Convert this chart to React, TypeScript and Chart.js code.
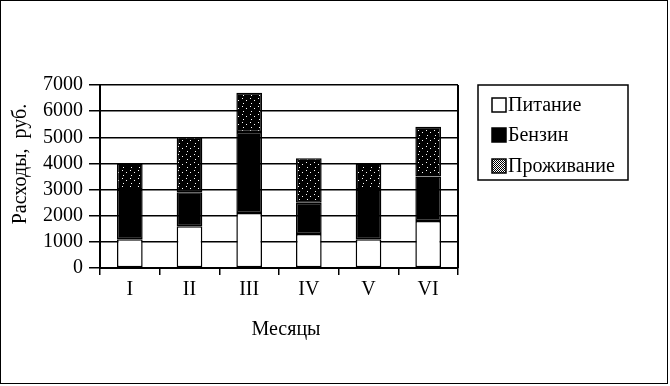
import { useEffect, useRef } from 'react';
import { Chart, registerables } from 'chart.js';

Chart.register(...registerables);

const months = ['I', 'II', 'III', 'IV', 'V', 'VI'];
const seriesLabels = ['Питание', 'Бензин', 'Проживание'];
const pitanie = [1100, 1600, 2100, 1300, 1100, 1800];
const benzin = [1900, 1300, 3100, 1200, 1900, 1700];
const prozhivanie = [1000, 2100, 1500, 1700, 1000, 1900];
const yMin = 0;
const yMax = 7000;
const yStep = 1000;
const yTitle = 'Расходы,  руб.';
const xTitle = 'Месяцы';

const FONT = "'Liberation Serif', 'Times New Roman', serif";

function makeDots(): CanvasPattern | string {
  const c = document.createElement('canvas');
  c.width = 8;
  c.height = 8;
  const g = c.getContext('2d');
  if (!g) return '#222';
  g.fillStyle = '#000';
  g.fillRect(0, 0, 8, 8);
  g.fillStyle = '#fff';
  g.fillRect(1, 1, 1, 1);
  g.fillRect(5, 3, 1, 1);
  g.fillRect(2, 6, 1, 1);
  return g.createPattern(c, 'repeat') || '#222';
}

function makeChecker(): CanvasPattern | string {
  const c = document.createElement('canvas');
  c.width = 2;
  c.height = 2;
  const g = c.getContext('2d');
  if (!g) return '#888';
  g.fillStyle = '#fff';
  g.fillRect(0, 0, 2, 2);
  g.fillStyle = '#000';
  g.fillRect(0, 0, 1, 1);
  g.fillRect(1, 1, 1, 1);
  return g.createPattern(c, 'repeat') || '#888';
}

export default function App() {
  const ref = useRef<HTMLCanvasElement>(null);

  useEffect(() => {
    if (!ref.current) return;
    const dots = makeDots();
    const checker = makeChecker();
    const fills: (string | CanvasPattern)[] = ['#ffffff', '#000000', dots];
    const swatches: (string | CanvasPattern)[] = ['#ffffff', '#000000', checker];

    const decor = {
      id: 'decor',
      afterDraw(chart: any) {
        const { ctx, chartArea: a } = chart;
        ctx.save();
        ctx.strokeStyle = '#000';
        ctx.lineWidth = 2;
        ctx.beginPath();
        ctx.moveTo(a.right, a.top);
        ctx.lineTo(a.right, a.bottom);
        ctx.stroke();

        ctx.fillStyle = '#000';
        ctx.font = `20px ${FONT}`;
        ctx.textAlign = 'center';
        ctx.textBaseline = 'middle';
        ctx.fillText(xTitle, 285, 329);

        ctx.save();
        ctx.translate(20, 163);
        ctx.rotate(-Math.PI / 2);
        ctx.fillText(yTitle, 0, 0);
        ctx.restore();

        // legend
        ctx.lineWidth = 1.5;
        ctx.strokeRect(477, 84, 150, 95);
        ctx.textAlign = 'left';
        const rowY = [104, 134, 165];
        seriesLabels.forEach((lab, i) => {
          const y = rowY[i];
          ctx.fillStyle = swatches[i];
          ctx.fillRect(491, y - 7, 14, 14);
          ctx.lineWidth = 1.5;
          ctx.strokeRect(491, y - 7, 14, 14);
          ctx.fillStyle = '#000';
          ctx.fillText(lab, 507, y + 1);
        });
        ctx.restore();
      },
    };

    const seriesData = [pitanie, benzin, prozhivanie];

    const chart = new Chart(ref.current, {
      type: 'bar',
      data: {
        labels: months,
        datasets: seriesLabels.map((label, i) => ({
          label,
          data: seriesData[i],
          backgroundColor: fills[i] as any,
          borderColor: '#000',
          borderWidth: 1.5,
          borderSkipped: false,
          barPercentage: 0.43,
          categoryPercentage: 1,
        })),
      },
      options: {
        animation: false,
        responsive: false,
        maintainAspectRatio: false,
        layout: { padding: { top: 84, right: 209, bottom: 0, left: 0 } },
        plugins: {
          legend: { display: false },
          tooltip: { enabled: false },
          title: { display: false },
        },
        scales: {
          x: {
            stacked: true,
            offset: true,
            grid: {
              offset: true,
              drawOnChartArea: false,
              drawTicks: true,
              tickLength: 7,
              color: '#000',
              lineWidth: 1.5,
            },
            border: { display: true, color: '#000', width: 2 },
            ticks: {
              color: '#000',
              font: { family: FONT, size: 20 },
              padding: 3,
              maxRotation: 0,
              autoSkip: false,
            },
            afterFit: (s: any) => {
              s.height = 115;
            },
          },
          y: {
            stacked: true,
            min: yMin,
            max: yMax,
            grid: {
              color: '#000',
              lineWidth: 1.5,
              tickLength: 11,
              drawTicks: true,
            },
            border: { display: true, color: '#000', width: 2 },
            ticks: {
              stepSize: yStep,
              autoSkip: false,
              color: '#000',
              font: { family: FONT, size: 20 },
              padding: 6,
              callback: (v: any) => String(v),
            },
            afterFit: (s: any) => {
              s.width = 99;
            },
          },
        },
      },
      plugins: [decor],
    });

    return () => chart.destroy();
  }, []);

  return (
    <div
      style={{
        position: 'fixed',
        left: 0,
        top: 0,
        width: 668,
        height: 384,
        border: '1px solid #000',
        background: '#fff',
        boxSizing: 'border-box',
      }}
    >
      <canvas ref={ref} width={666} height={382} style={{ display: 'block' }} />
    </div>
  );
}
